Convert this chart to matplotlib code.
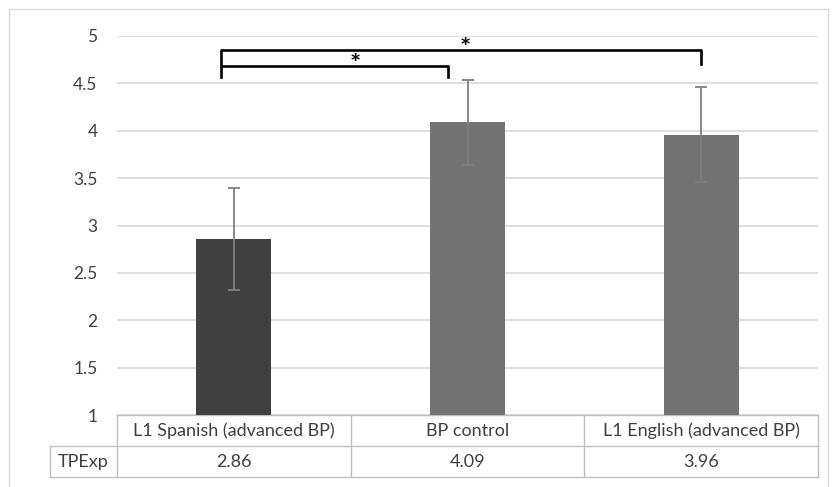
import numpy as np
import matplotlib.pyplot as plt
import matplotlib.transforms as mtransforms

plt.rcParams['font.family'] = ['Lato', 'DejaVu Sans']

groups = ['L1 Spanish (advanced BP)', 'BP control', 'L1 English (advanced BP)']
tpexp = [2.86, 4.09, 3.96]
errs = [0.54, 0.45, 0.50]
row_label = 'TPExp'
bar_colors = ['#404040', '#737373', '#737373']
yticks = [1, 1.5, 2, 2.5, 3, 3.5, 4, 4.5, 5]

# significance brackets: (left x, right x, height, left leg end, right leg end, star x, star y)
brackets = [(-0.056, 0.916, 4.68, 4.57, 4.57, 0.52, 4.74),
            (-0.056, 2.0, 4.85, 4.70, 4.70, 0.99, 4.91)]

fig = plt.figure(figsize=(8.33, 4.87), dpi=100)
ax = fig.add_axes([117/833, 1 - 415/487, 701/833, 379/487])

x = np.arange(len(groups))
ax.bar(x, tpexp, width=0.32, color=bar_colors, zorder=3)
ax.errorbar(x, tpexp, yerr=errs, fmt='none', ecolor='#7f7f7f', elinewidth=1.3,
            capsize=4.5, capthick=1.3, zorder=4)

ax.set_xlim(-0.5, 2.5)
ax.set_ylim(1, 5)
ax.set_yticks(yticks)
ax.set_yticklabels(['%g' % t for t in yticks], fontsize=12.5, color='#404040')
ax.tick_params(axis='y', length=0, pad=14)
ax.set_xticks([])
ax.yaxis.grid(True, color='#d9d9d9', lw=1.2, zorder=0)
for s in ax.spines.values():
    s.set_visible(False)

# brackets
for xa, xb, h, l0, l1, sx, sy in brackets:
    ax.plot([xa, xa, xb, xb], [l0, h, h, l1], color='black', lw=1.9,
            solid_joinstyle='round', clip_on=False, zorder=5)
    ax.text(sx, sy, '*', ha='center', va='center', fontsize=12.5,
            fontweight='bold', color='black', family='DejaVu Sans')

# data table below the axis
trans = mtransforms.blended_transform_factory(ax.transData, ax.transAxes)
lc = '#bfbfbf'
r1 = -0.082
r2 = -0.164
xl = -0.788
kw = dict(transform=trans, color=lc, lw=1.0, clip_on=False)
ax.plot([-0.5, 2.5], [0, 0], **kw)
ax.plot([xl, 2.5], [r1, r1], **kw)
ax.plot([xl, 2.5], [r2, r2], **kw)
ax.plot([xl, xl], [r1, r2], **kw)
for xv in [-0.5, 0.5, 1.5, 2.5]:
    ax.plot([xv, xv], [0, r2], **kw)

for i, g in enumerate(groups):
    ax.text(i, r1 / 2, g, transform=trans, ha='center', va='center',
            fontsize=13, color='#404040')
    ax.text(i, (r1 + r2) / 2, '%.2f' % tpexp[i], transform=trans, ha='center',
            va='center', fontsize=13, color='#404040')
ax.text((xl - 0.5) / 2, (r1 + r2) / 2, row_label, transform=trans, ha='center',
        va='center', fontsize=13, color='#404040')

# outer chart frame
fig.patches.append(plt.Rectangle((9/833, -0.1), 819/833, 1.1 - 9/487,
                                 transform=fig.transFigure, fill=False,
                                 edgecolor='#d9d9d9', lw=1.0))

fig.savefig('out.png', dpi=100)
